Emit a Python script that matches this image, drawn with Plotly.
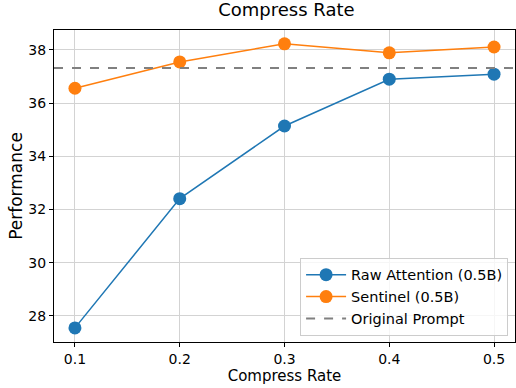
import plotly.graph_objects as go

rates = [0.1, 0.2, 0.3, 0.4, 0.5]
raw_attention = [27.55, 32.41, 35.14, 36.90, 37.09]
sentinel = [36.56, 37.55, 38.23, 37.89, 38.11]
original_prompt = 37.32

x_ticks = [0.1, 0.2, 0.3, 0.4, 0.5]
y_ticks = [28, 30, 32, 34, 36, 38]

blue = "#1f77b4"
orange = "#ff7f0e"

fig = go.Figure()
fig.add_trace(go.Scatter(x=rates, y=raw_attention, mode="lines+markers",
                         name="Raw Attention (0.5B)",
                         line=dict(color=blue, width=1.5),
                         marker=dict(color=blue, size=13)))
fig.add_trace(go.Scatter(x=rates, y=sentinel, mode="lines+markers",
                         name="Sentinel (0.5B)",
                         line=dict(color=orange, width=1.5),
                         marker=dict(color=orange, size=13)))
fig.add_trace(go.Scatter(x=[0.08, 0.52], y=[original_prompt, original_prompt], mode="lines",
                         name="Original Prompt",
                         line=dict(color="gray", width=2, dash="dash")))

axis_common = dict(showgrid=True, gridcolor="#d3d3d3", gridwidth=1,
                   showline=True, linecolor="black", linewidth=1, mirror=True,
                   ticks="outside", ticklen=4, tickcolor="black",
                   tickfont=dict(size=14, color="black"), zeroline=False)

fig.update_layout(
    width=516, height=388,
    margin=dict(l=54, r=1, t=30, b=46),
    paper_bgcolor="white", plot_bgcolor="white",
    font=dict(family="DejaVu Sans", color="black"),
    title=dict(text="Compress Rate", x=0.555, xanchor="center", y=0.99, yanchor="top",
               font=dict(size=18)),
    xaxis=dict(range=[0.08, 0.52], tickvals=x_ticks, ticktext=[str(v) for v in x_ticks],
               title=dict(text="Compress Rate", font=dict(size=15), standoff=1), **axis_common),
    yaxis=dict(range=[27.02, 38.75], tickvals=y_ticks,
               title=dict(text="Performance", font=dict(size=17), standoff=1), **axis_common),
    legend=dict(x=0.985, y=0.02, xanchor="right", yanchor="bottom",
                bgcolor="rgba(255,255,255,0.8)", bordercolor="#cccccc", borderwidth=1,
                font=dict(size=14.5), itemwidth=40, tracegroupgap=0),
    showlegend=True,
)

fig.write_html("out.html", config={"displayModeBar": False},
               post_script="document.body.style.margin='0';document.body.style.overflow='hidden';")
